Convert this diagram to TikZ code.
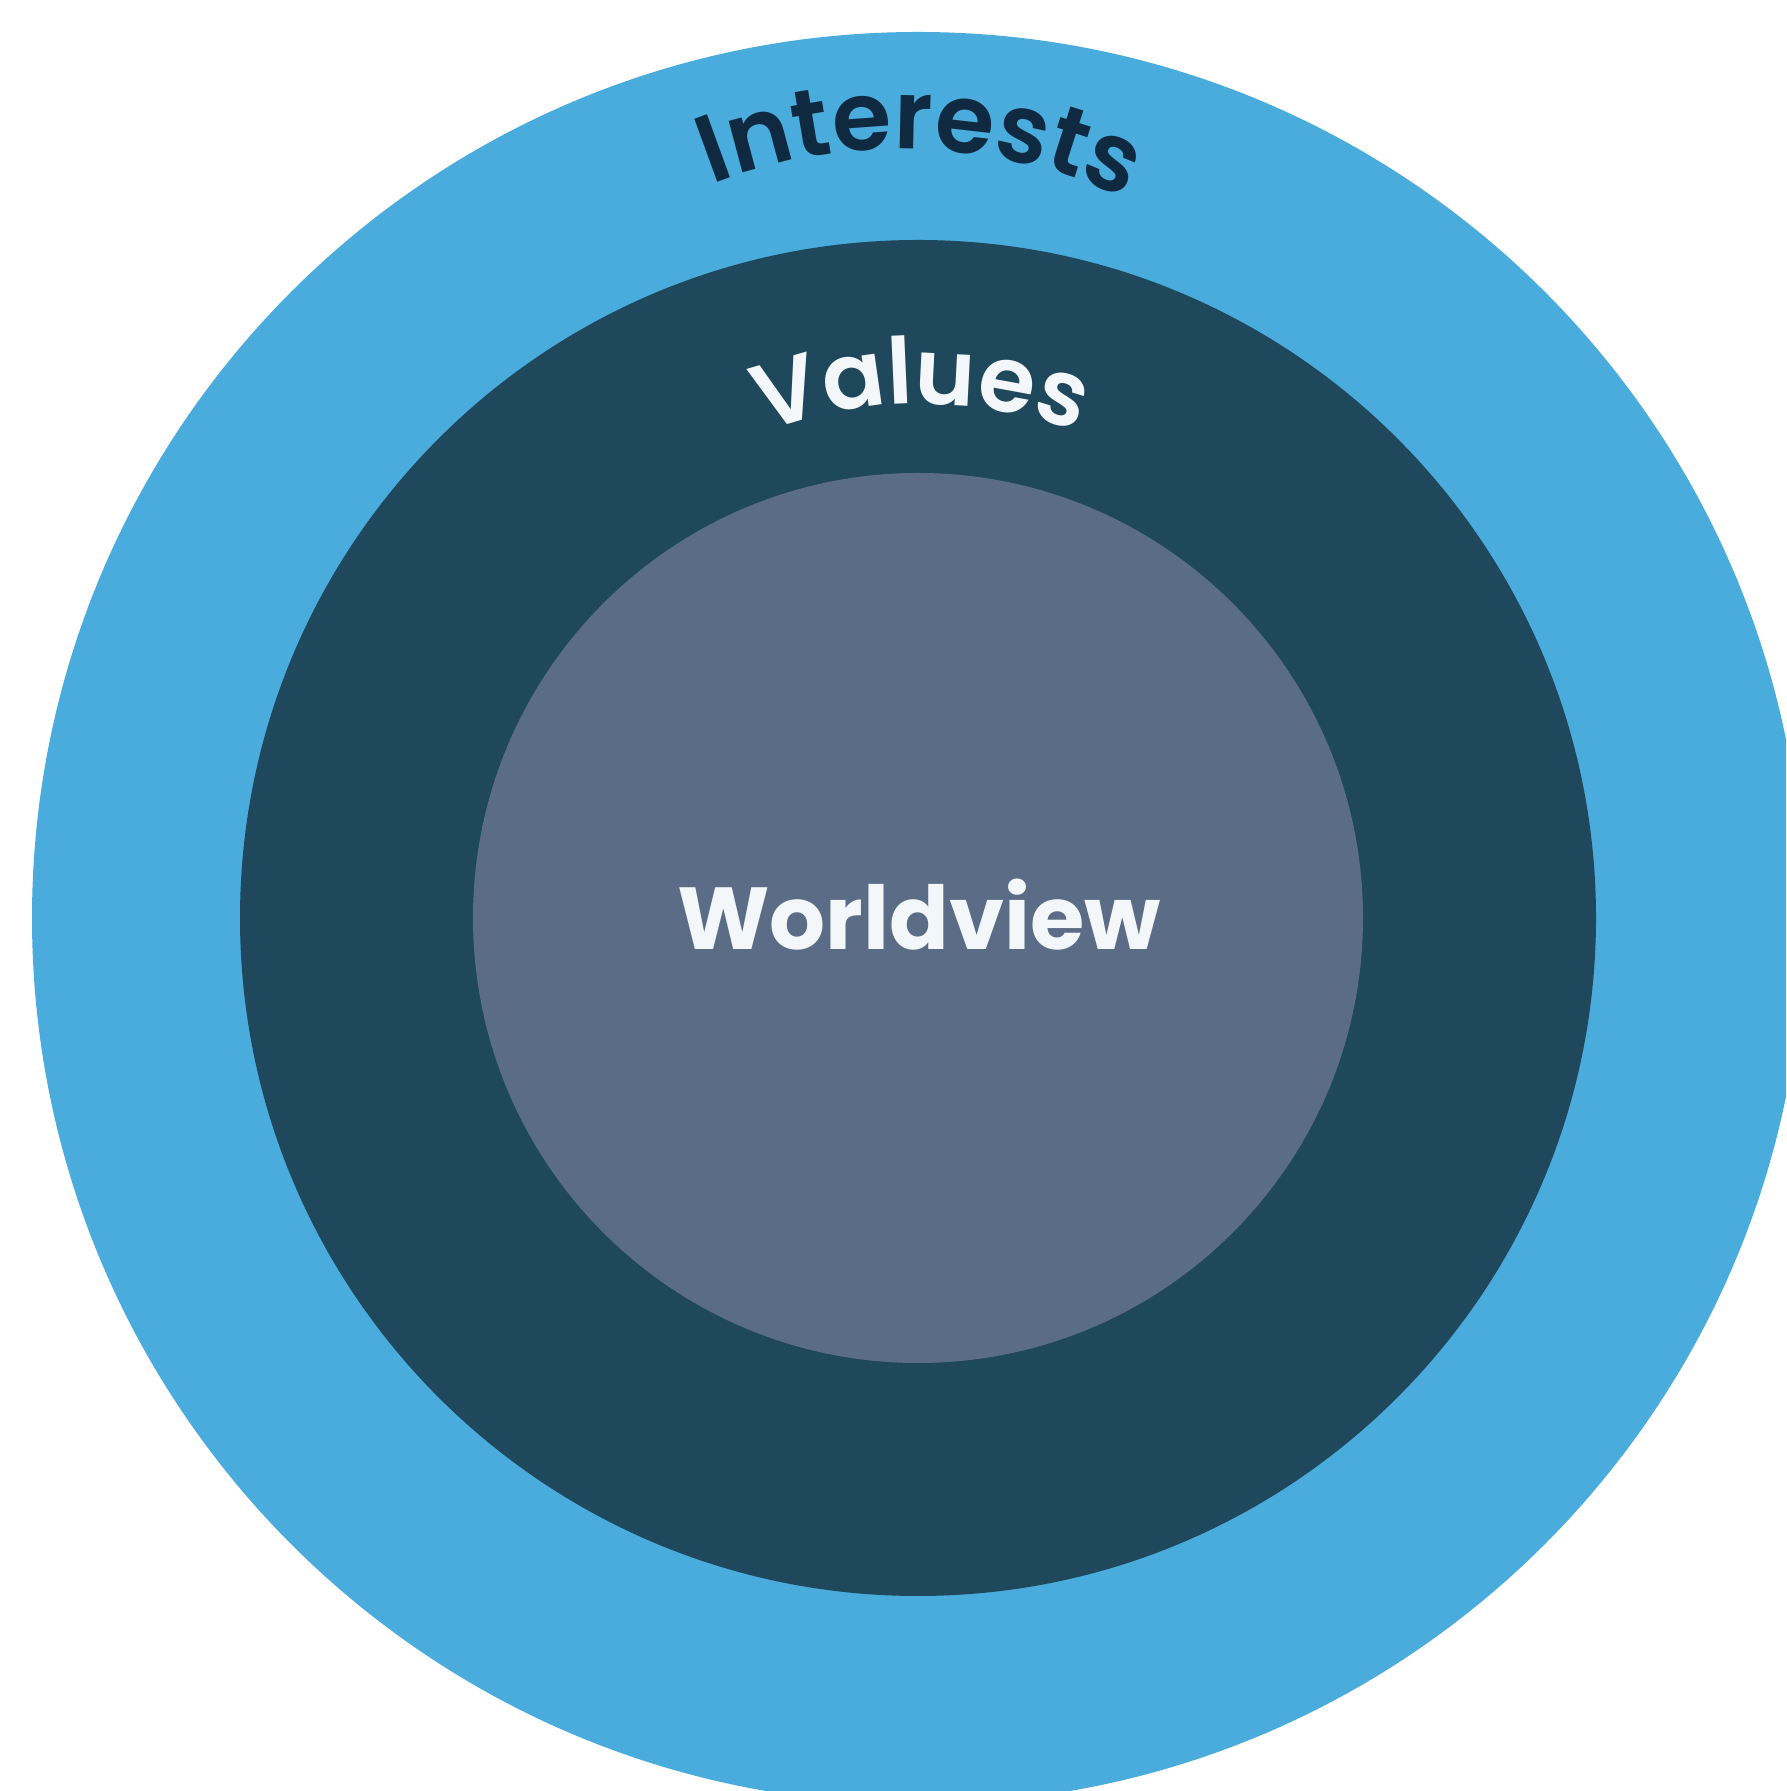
\documentclass[tikz,border=0pt]{standalone}
\usepackage{fontspec}
\setmainfont{Poppins}
\newfontfamily\intfont{Poppins}[UprightFont=* SemiBold, LetterSpace=9.5]
\newfontfamily\valfont{Poppins}[UprightFont=* SemiBold, LetterSpace=10.5]
\newfontfamily\corefont{Poppins}[UprightFont=* Bold]
\usetikzlibrary{decorations.text,calc}
\definecolor{ringblue}{RGB}{73,172,221}
\definecolor{ringdark}{RGB}{31,72,92}
\definecolor{coregrey}{RGB}{91,109,134}
\definecolor{inknavy}{RGB}{15,42,64}
\definecolor{inkwhite}{RGB}{244,247,249}
\tikzset{
  arclabel/.style={decorate, decoration={text along path, text align=center, text color=#1}}
}
\begin{document}
\begin{tikzpicture}[x=1pt,y=1pt]
\useasboundingbox (0,0) rectangle (1786,1791);
\clip (0,0) rectangle (1786,1791);
\fill[white] (0,0) rectangle (1786,1791);
\coordinate (c) at (918,873);
\fill[ringblue] (c) circle[radius=886];
\fill[ringdark] (c) circle[radius=678];
\fill[coregrey] (c) circle[radius=445];
% Interests: arc centre (902,1122), r=520, text centred at 88 deg
\coordinate (intarc) at (902,1122);
\coordinate (intstart) at ($(intarc)+(133:520)$);
% Values: arc centre (921,937), r=450
\coordinate (valarc) at (921,937);
\coordinate (valstart) at ($(valarc)+(135:450)$);
\path[arclabel=inknavy, decoration={text={|\intfont\fontsize{96}{100}\selectfont|Interests}}]
  (intstart) arc[start angle=133, end angle=43, radius=520];
\path[arclabel=inkwhite, decoration={text={|\valfont\fontsize{92}{96}\selectfont|Values}}]
  (valstart) arc[start angle=135, end angle=45, radius=450];
\node[anchor=base, text=inkwhite, inner sep=0pt, font=\corefont\fontsize{88}{92}\selectfont] (wv) at (919,841) {Worldview};
\end{tikzpicture}
\end{document}
